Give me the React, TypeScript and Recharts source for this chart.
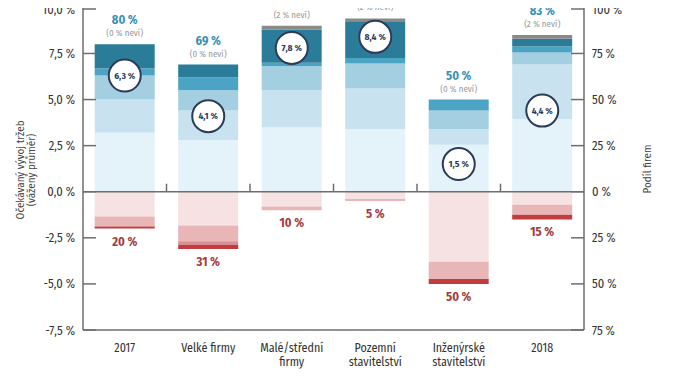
import React from 'react';
import { ComposedChart, Bar, Scatter, XAxis, YAxis, ReferenceLine } from 'recharts';

const categories = ['2017', 'Velké firmy', 'Malé/střední\nfirmy', 'Pozemní\nstavitelství', 'Inženýrské\nstavitelství', '2018'];
const growthA = [32, 28, 35, 34, 25.5, 39.5];
const growthB = [18, 16, 20, 22, 8.5, 29.5];
const growthC = [13, 11, 13, 13.5, 10, 6.5];
const growthD = [4, 7, 2, 3, 6, 3.3];
const growthE = [13, 7, 18, 19.5, 0, 4.2];
const dontKnow = [0, 0, 2, 2, 0, 2];
const declineA = [13.5, 18.3, 8, 4, 38, 7];
const declineB = [5.3, 8.5, 2, 1, 9.3, 5.5];
const declineC = [0, 2, 0, 0, 0, 0];
const declineD = [1.2, 2.2, 0, 0, 2.7, 2.5];
const growthTotal = [80, 69, 88, 92, 50, 83];
const declineTotal = [20, 31, 10, 5, 50, 15];
const weightedAvg = [6.3, 4.1, 7.8, 8.4, 1.5, 4.4];
const leftTicks = [-7.5, -5, -2.5, 0, 2.5, 5, 7.5, 10];
const rightTicks = [-75, -50, -25, 0, 25, 50, 75, 100];

const data = categories.map((c, i) => ({
  cat: c,
  gA: growthA[i],
  gB: growthB[i],
  gC: growthC[i],
  gD: growthD[i],
  gE: growthE[i],
  dk: dontKnow[i],
  dA: -declineA[i],
  dB: -declineB[i],
  dC: -declineC[i],
  dD: -declineD[i],
  top: growthA[i] + growthB[i] + growthC[i] + growthD[i] + growthE[i] + dontKnow[i],
  bottom: -(declineA[i] + declineB[i] + declineC[i] + declineD[i]),
  avg: weightedAvg[i],
  gTot: growthTotal[i],
  dTot: declineTotal[i],
  dkTot: dontKnow[i],
}));

const FONT = "'Fira Sans Condensed', 'Liberation Sans Narrow', Roboto, sans-serif";
const AXIS = '#6e6e6e';
const TXT = '#333333';

const fmtLeft = (v: number) => v.toFixed(1).replace('.', ',') + ' %';
const fmtRight = (v: number) => Math.abs(v) + ' %';

const LeftTick = (props: any) => {
  const { x, y, payload } = props;
  return (
    <g>
      <line x1={x + 8} x2={x + 21} y1={y} y2={y} stroke={AXIS} strokeWidth={1.5} />
      <text x={x} y={y} dy={4.5} textAnchor="end" fontFamily={FONT} fontSize={12.5} fill={TXT}>
        {fmtLeft(payload.value)}
      </text>
    </g>
  );
};

const RightTick = (props: any) => {
  const { x, y, payload } = props;
  return (
    <g>
      <line x1={x - 8} x2={x - 21} y1={y} y2={y} stroke={AXIS} strokeWidth={1.5} />
      <text x={x} y={y} dy={4.5} textAnchor="start" fontFamily={FONT} fontSize={12.5} fill={TXT}>
        {fmtRight(payload.value)}
      </text>
    </g>
  );
};

const CatTick = (props: any) => {
  const { x, y, payload } = props;
  const lines = String(payload.value).split('\n');
  return (
    <text x={x} y={y} textAnchor="middle" fontFamily={FONT} fontSize={12} fill={TXT}>
      {lines.map((l, i) => (
        <tspan key={i} x={x} dy={14}>{l}</tspan>
      ))}
    </text>
  );
};

const ZeroLine = (props: any) => {
  const { x1, x2, y1 } = props;
  const n = categories.length;
  const step = (x2 - x1) / n;
  const marks = [];
  for (let i = 1; i < n; i++) {
    const xx = x1 + step * i;
    marks.push(<line key={i} x1={xx} x2={xx} y1={y1} y2={y1 - 8} stroke={AXIS} strokeWidth={1.5} />);
  }
  return (
    <g>
      <line x1={x1} x2={x2} y1={y1} y2={y1} stroke={AXIS} strokeWidth={1.5} />
      {marks}
    </g>
  );
};

const AvgCircle = (props: any) => {
  const { cx, cy, payload } = props;
  return (
    <g>
      <circle cx={cx} cy={cy} r={16} fill="#ffffff" stroke="#2c3b5a" strokeWidth={2} />
      <text x={cx} y={cy} dy={3.3} textAnchor="middle" fontFamily={FONT} fontSize={9.5} fontWeight="bold" fill="#2c3b5a">
        {payload.avg.toFixed(1).replace('.', ',') + ' %'}
      </text>
    </g>
  );
};

const TopLabel = (props: any) => {
  const { cx, cy, payload } = props;
  return (
    <g>
      <text x={cx} y={cy - 20} textAnchor="middle" fontFamily={FONT} fontSize={12.5} fontWeight="bold" fill="#3a90b3">
        {payload.gTot + ' %'}
      </text>
      <text x={cx} y={cy - 8} textAnchor="middle" fontFamily={FONT} fontSize={9} fill="#9a9a9a">
        {'(' + payload.dkTot + ' % neví)'}
      </text>
    </g>
  );
};

const BottomLabel = (props: any) => {
  const { cx, cy, payload } = props;
  return (
    <text x={cx} y={cy + 17} textAnchor="middle" fontFamily={FONT} fontSize={12.5} fontWeight="bold" fill="#a33b3e">
      {payload.dTot + ' %'}
    </text>
  );
};

const LeftTitle = (props: any) => {
  const { viewBox } = props;
  const cy = viewBox.y + viewBox.height / 2 + 5;
  return (
    <g fontFamily={FONT} fontSize={11} fill="#444">
      <text x={20} y={cy} textAnchor="middle" transform={`rotate(-90 20 ${cy})`} dy={4}>Očekávaný vývoj tržeb</text>
      <text x={31} y={cy} textAnchor="middle" transform={`rotate(-90 31 ${cy})`} dy={4}>(vážený průměr)</text>
    </g>
  );
};

const RightTitle = (props: any) => {
  const { viewBox } = props;
  const cy = viewBox.y + viewBox.height / 2 + 4;
  return (
    <text x={647} y={cy} textAnchor="middle" transform={`rotate(-90 647 ${cy})`} dy={4} fontFamily={FONT} fontSize={11} fill="#444">
      Podíl firem
    </text>
  );
};

export default function App() {
  return (
    <div style={{ margin: '-8px 0 0 -8px', width: 674, height: 380, background: '#fff' }}>
      <ComposedChart
        width={674}
        height={380}
        data={data}
        stackOffset="sign"
        barCategoryGap="14%"
        margin={{ top: 0, right: 0, bottom: 0, left: 0 }}
      >
        <XAxis
          dataKey="cat"
          xAxisId="x"
          height={50}
          tick={<CatTick />}
          tickLine={false}
          axisLine={{ stroke: AXIS, strokeWidth: 1.5 }}
          interval={0}
        />
        <YAxis
          yAxisId="left"
          orientation="left"
          width={83}
          domain={[-7.5, 10.4]}
          ticks={leftTicks}
          tick={<LeftTick />}
          tickSize={0}
          tickMargin={8}
          axisLine={{ stroke: AXIS, strokeWidth: 1.5 }}
          allowDataOverflow
          label={<LeftTitle />}
        />
        <YAxis
          yAxisId="right"
          orientation="right"
          width={90}
          domain={[-75, 104]}
          ticks={rightTicks}
          tick={<RightTick />}
          tickSize={0}
          tickMargin={8}
          axisLine={{ stroke: AXIS, strokeWidth: 1.5 }}
          allowDataOverflow
          label={<RightTitle />}
        />
        <Bar xAxisId="x" yAxisId="right" dataKey="gA" stackId="s" fill="#e4f2f9" isAnimationActive={false} />
        <Bar xAxisId="x" yAxisId="right" dataKey="gB" stackId="s" fill="#c8e3ef" isAnimationActive={false} />
        <Bar xAxisId="x" yAxisId="right" dataKey="gC" stackId="s" fill="#a4cfe1" isAnimationActive={false} />
        <Bar xAxisId="x" yAxisId="right" dataKey="gD" stackId="s" fill="#4ba4c3" isAnimationActive={false} />
        <Bar xAxisId="x" yAxisId="right" dataKey="gE" stackId="s" fill="#2b7c98" isAnimationActive={false} />
        <Bar xAxisId="x" yAxisId="right" dataKey="dk" stackId="s" fill="#8a8a8a" isAnimationActive={false} />
        <Bar xAxisId="x" yAxisId="right" dataKey="dA" stackId="s" fill="#f6e2e2" isAnimationActive={false} />
        <Bar xAxisId="x" yAxisId="right" dataKey="dB" stackId="s" fill="#e8b6b7" isAnimationActive={false} />
        <Bar xAxisId="x" yAxisId="right" dataKey="dC" stackId="s" fill="#d98e90" isAnimationActive={false} />
        <Bar xAxisId="x" yAxisId="right" dataKey="dD" stackId="s" fill="#c13c3e" isAnimationActive={false} />
        <ReferenceLine xAxisId="x" yAxisId="right" y={0} shape={(p: any) => <ZeroLine {...p} />} />
        <Scatter xAxisId="x" yAxisId="left" dataKey="avg" shape={(p: any) => <AvgCircle {...p} />} isAnimationActive={false} />
        <Scatter xAxisId="x" yAxisId="right" dataKey="top" shape={(p: any) => <TopLabel {...p} />} isAnimationActive={false} />
        <Scatter xAxisId="x" yAxisId="right" dataKey="bottom" shape={(p: any) => <BottomLabel {...p} />} isAnimationActive={false} />
      </ComposedChart>
    </div>
  );
}
